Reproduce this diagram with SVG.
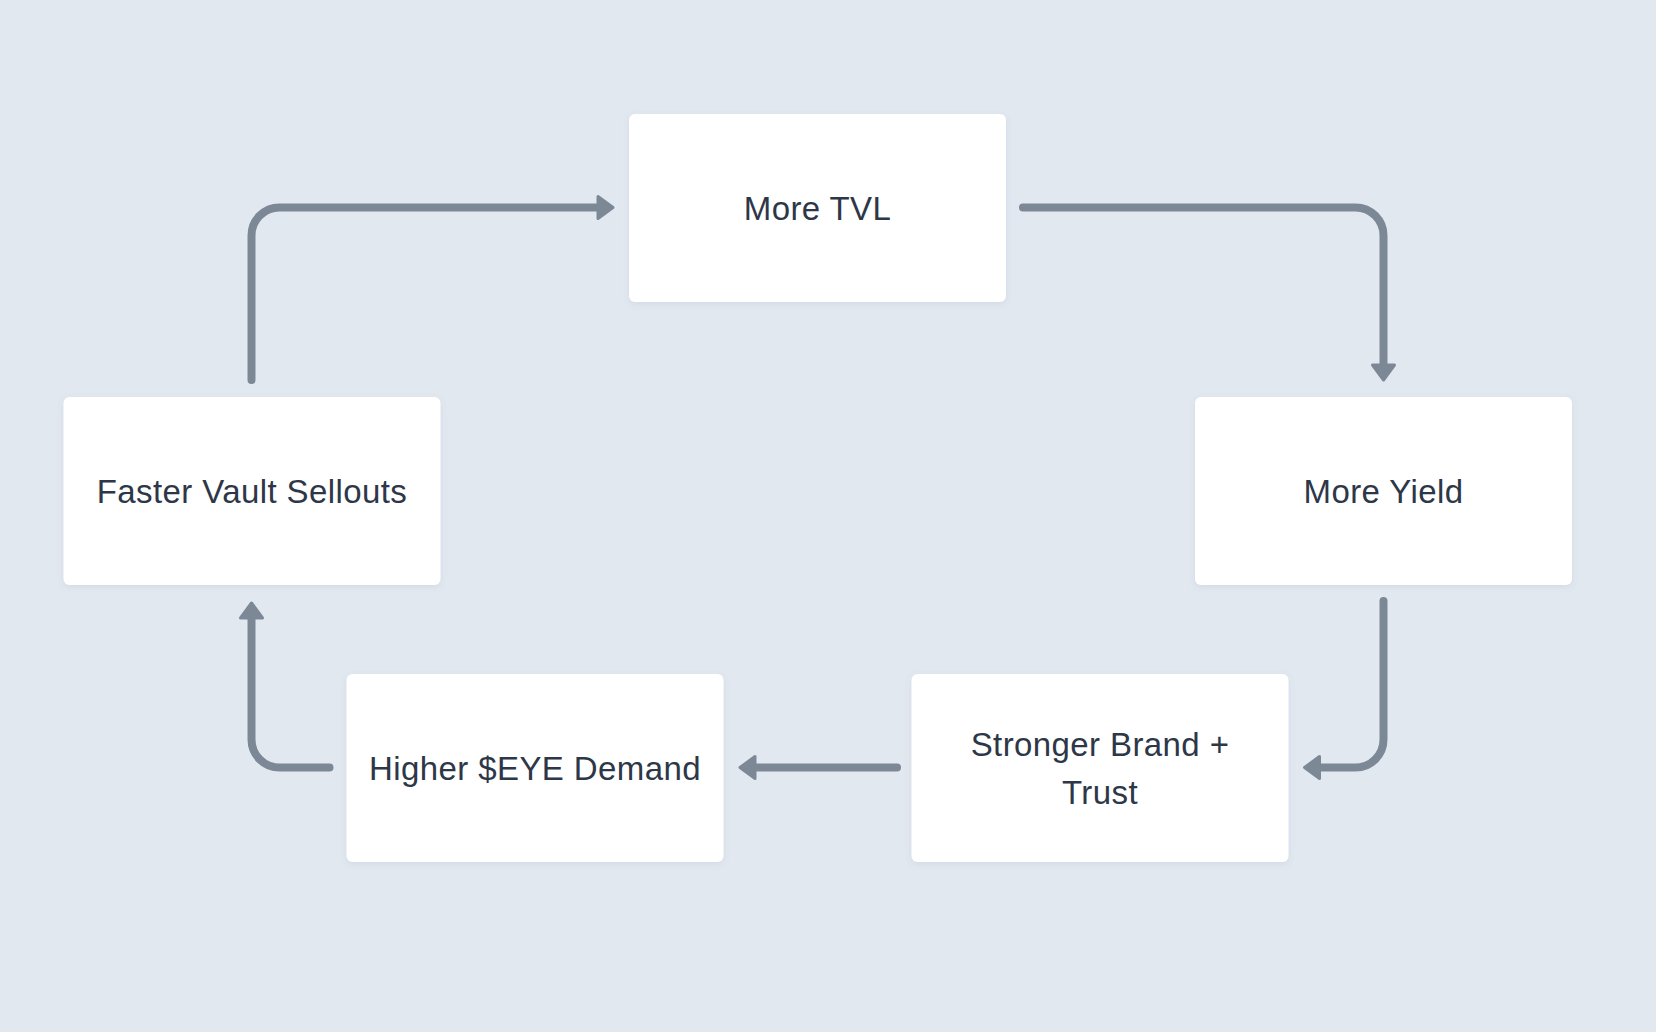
<svg xmlns="http://www.w3.org/2000/svg" width="1656" height="1032" viewBox="0 0 1656 1032">
<defs>
<style>
.node rect{fill:#ffffff;filter:url(#sh);}
.node text{font-family:"Liberation Sans","DejaVu Sans",sans-serif;font-size:33px;letter-spacing:0.4px;fill:#2d3748;text-anchor:middle;}
.conn path{fill:none;stroke:#7d8896;stroke-width:8;stroke-linecap:round;stroke-linejoin:round;marker-end:url(#ah);}
</style>
<filter id="sh" x="-10%" y="-10%" width="120%" height="130%">
<feDropShadow dx="0" dy="2" stdDeviation="3" flood-color="#64748b" flood-opacity="0.12"/>
</filter>
<marker id="ah" viewBox="0 0 20 28" refX="2" refY="14" markerWidth="20" markerHeight="28" markerUnits="userSpaceOnUse" orient="auto" overflow="visible">
<path d="M2,3 L17,14 L2,25 Z" fill="#7d8896" stroke="#7d8896" stroke-width="3" stroke-linejoin="round"/>
</marker>
</defs>
<rect width="1656" height="1032" fill="#e2e8f0"/>
<g id="connectors" class="conn">
<path d="M251.5,380 V235.5 A28,28 0 0 1 279.5,207.5 H598"/>
<path d="M1023,207.5 H1355.5 A28,28 0 0 1 1383.5,235.5 V365"/>
<path d="M1383.5,601 V739.5 A28,28 0 0 1 1355.5,767.5 H1319.5"/>
<path d="M897,767.5 H755"/>
<path d="M329.5,767.5 H279.5 A28,28 0 0 1 251.5,739.5 V618"/>
</g>
<g id="node-tvl" class="node">
<rect x="629" y="114" width="377" height="188" rx="6"/>
<text x="817.5" y="219.5">More TVL</text>
</g>
<g id="node-faster" class="node">
<rect x="63.5" y="397" width="377" height="188" rx="6"/>
<text x="252" y="502.5">Faster Vault Sellouts</text>
</g>
<g id="node-yield" class="node">
<rect x="1195" y="397" width="377" height="188" rx="6"/>
<text x="1383.5" y="502.5">More Yield</text>
</g>
<g id="node-higher" class="node">
<rect x="346.5" y="674" width="377" height="188" rx="6"/>
<text x="535" y="779.5">Higher $EYE Demand</text>
</g>
<g id="node-stronger" class="node">
<rect x="911.5" y="674" width="377" height="188" rx="6"/>
<text x="1100" y="756">Stronger Brand +</text>
<text x="1100" y="803.5">Trust</text>
</g>
</svg>
